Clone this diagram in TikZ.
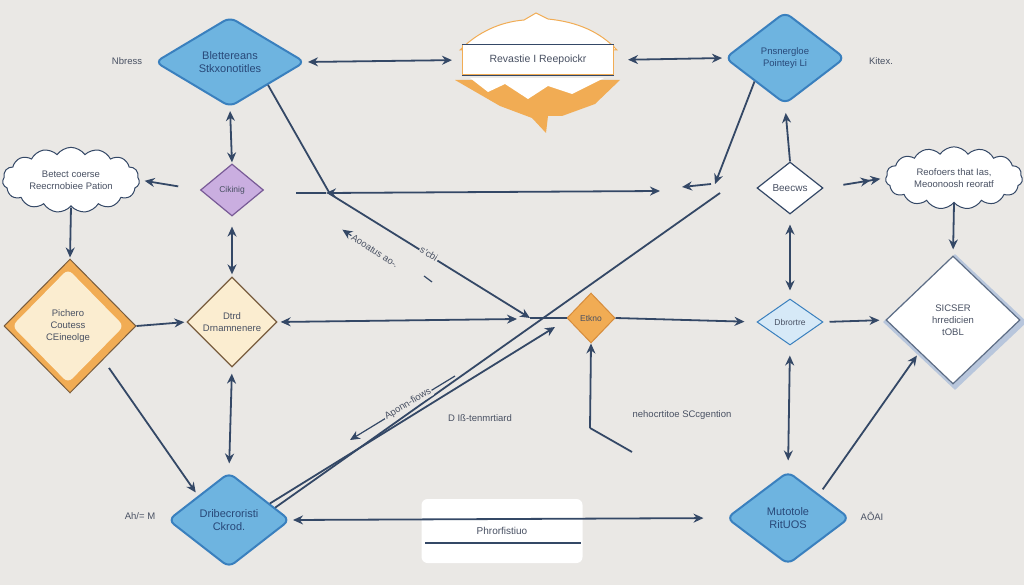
\documentclass[tikz,border=0pt]{standalone}
\usepackage{fontspec}
\setmainfont{Liberation Sans}
\usetikzlibrary{shapes.geometric,shapes.symbols,arrows.meta}
\definecolor{bgc}{RGB}{234,232,229}
\definecolor{navy}{RGB}{52,72,102}
\definecolor{txt}{RGB}{72,80,98}
\definecolor{bluetxt}{RGB}{40,72,120}
\definecolor{bluef}{RGB}{110,180,224}
\definecolor{blued}{RGB}{58,128,190}
\definecolor{purf}{RGB}{202,174,224}
\definecolor{purd}{RGB}{120,90,150}
\definecolor{orf}{RGB}{241,172,84}
\definecolor{ord}{RGB}{214,140,60}
\definecolor{cream}{RGB}{251,237,208}
\definecolor{brownd}{RGB}{120,92,62}
\definecolor{lbf}{RGB}{214,233,247}
\definecolor{greyblue}{RGB}{184,198,220}
\begin{document}
\begin{tikzpicture}[x=1pt,y=-1pt,
  base/.style={inner sep=0pt, align=center, text=txt, font=\fontsize{10}{12}\selectfont},
  blueshape/.style={base, diamond, fill=bluef, draw=blued, line width=2pt, rounded corners=7pt, text=bluetxt, font=\fontsize{11}{13}\selectfont},
  dia/.style={base, diamond},
  cloudy/.style={base, cloud, cloud puffs=15, cloud puff arc=110, aspect=2.2, fill=white, draw=navy, line width=1pt},
  conn/.style={draw=navy, line width=1.8pt},
  >={Stealth[length=10pt,width=9pt]},
  lab/.style={text=txt, font=\fontsize{9.5}{11}\selectfont, inner sep=1pt},
  onl/.style={lab, fill=bgc}
]
\fill[bgc] (0,0) rectangle (1024,585);
\useasboundingbox (0,0) rectangle (1024,585);

% ---------- top banner ----------
\fill[orf] (455,80) -- (620,80) -- (595,104) -- (562,116) -- (548,116) -- (546,133) -- (532,118) -- (500,106) -- cycle;
\fill[white] (470,78) -- (488,92) -- (505,84) -- (528,99) -- (548,86) -- (572,94) -- (604,78) -- cycle;
\filldraw[fill=white, draw=orf, line width=1pt] (460,50) .. controls (478,32) and (500,22) .. (524,20) -- (536,13) -- (548,19) .. controls (578,22) and (600,32) .. (617,50) -- cycle;
\node[base, fill=white, draw=orf, line width=1pt, minimum width=151, minimum height=30, font=\fontsize{10.5}{12}\selectfont] (rr) at (538,60) {Revastie I Reepoickr};
\draw[navy, line width=1.3pt] (rr.north west) -- (rr.north east);
\draw[navy, line width=1.3pt] (rr.south west) -- (rr.south east);

% ---------- nodes ----------
\node[blueshape, minimum width=150, minimum height=90] (tl) at (230,62) {Blettereans\\Stkxonotitles};
\node[blueshape, minimum width=120, minimum height=92, font=\fontsize{9.5}{12}\selectfont] (tr) at (785,58) {Pnsnergloe\\Pointeyi Li};
\node[cloudy, minimum width=137, minimum height=60, font=\fontsize{9.5}{12}\selectfont] (lc) at (71,180) {Betect coerse\\Reecrnobiee Pation};
\node[cloudy, minimum width=137, minimum height=62, font=\fontsize{9.5}{12}\selectfont] (rc) at (954,178) {Reofoers that Ias,\\Meoonoosh reoratf};
\node[dia, fill=purf, draw=purd, line width=1.2pt, minimum width=63, minimum height=52, font=\fontsize{8.5}{10}\selectfont] (pu) at (232,190) {Cikinig};
\node[dia, fill=white, draw=navy, line width=1.2pt, minimum width=66, minimum height=52] (be) at (790,188) {Beecws};

\node[dia, fill=orf, draw=brownd, line width=1pt, minimum width=132, minimum height=134] (pc) at (70,326) {};
\node[dia, fill=cream, rounded corners=6pt, minimum width=112, minimum height=114] at (68,326) {};
\node[base, font=\fontsize{9.5}{12}\selectfont] at (68,326) {Pichero\\Coutess\\CEineolge};

\node[dia, fill=cream, draw=brownd, line width=1.3pt, minimum width=90, minimum height=90, font=\fontsize{9.5}{12}\selectfont] (dt) at (232,322) {Dtrd\\Drnamnenere};
\node[dia, fill=orf, draw=ord, line width=1pt, minimum width=48, minimum height=50, font=\fontsize{8.5}{10}\selectfont] (et) at (591,318) {Etkno};
\node[dia, fill=lbf, draw=blued, line width=1pt, minimum width=66, minimum height=46, font=\fontsize{8.5}{10}\selectfont] (lb) at (790,322) {Dbrortre};

\node[dia, fill=greyblue, minimum width=144, minimum height=136] at (955,322) {};
\node[dia, fill=white, draw=navy!80, line width=1.2pt, minimum width=134, minimum height=128, font=\fontsize{9.5}{12}\selectfont] (si) at (953,320) {SICSER\\hrredicien\\tOBL};

\node[blueshape, minimum width=122, minimum height=95] (bb) at (229,520) {Dribecroristi\\Ckrod.};
\node[blueshape, minimum width=123, minimum height=93] (mu) at (788,518) {Mutotole\\RitUOS};

\node[base, fill=white, rounded corners=6pt, minimum width=161, minimum height=64] (ph) at (502,531) {Phrorfistiuo};
\draw[navy, line width=1.2pt] (425,543) -- (581,543);

% ---------- free labels ----------
\node[lab] (l1) at (127,61) {Nbress};
\node[lab] (l2) at (881,61) {Kitex.};
\node[lab] (l3) at (140,516) {Ah/= M};
\node[lab] (l4) at (872,516) {AÔAI};
\node[lab] (l5) at (480,418) {D Iß-tenmrtiard};
\node[lab] (l6) at (682,415) {nehocrtitoe SCcgention};

% ---------- coordinates ----------
\coordinate (cx) at (530,318);
\coordinate (cxl) at (517,319);
\coordinate (bend) at (330,194);
\coordinate (h0) at (296,193);
\coordinate (h1) at (326,193);
\coordinate (h2) at (660,191);
\coordinate (tj) at (715,184);
\coordinate (tj2) at (682,187);
\coordinate (td) at (720,193);
\coordinate (ar) at (555,327);
\coordinate (etb) at (590,428);
\coordinate (ete) at (632,452);
\coordinate (ap1) at (455,376);
\coordinate (ap2) at (350,440);
\coordinate (tk1) at (424,276);
\coordinate (tk2) at (432,282);

% ---------- connectors ----------
\draw[conn,<->,shorten <=2pt,shorten >=10pt] (tl.east) -- (rr.west);
\draw[conn,<->,shorten <=14pt,shorten >=2pt] (rr.east) -- (tr.west);
\draw[conn,<->,shorten <=3pt,shorten >=1pt] (tl.south) -- (pu.north);
\draw[conn,->,shorten <=22pt,shorten >=5pt] (pu.west) -- (lc.east);
\draw[conn,->,shorten <=1pt,shorten >=1pt] (lc.south) -- (pc.north);
\draw[conn,<->,shorten <=10pt,shorten >=2pt] (pu.south) -- (dt.north);
\draw[conn,->,shorten >=2pt] (pc.east) -- (dt.west);
\draw[conn,<->,shorten <=3pt] (dt.east) -- (cxl);
\draw[conn] (cx) -- (et.west);
\draw[conn,->,shorten >=12pt] (et.east) -- (lb.west);
\draw[conn,->,shorten <=6pt,shorten >=6pt] (lb.east) -- (si.west);
\draw[conn,->>,shorten <=20pt,shorten >=5pt] (be.east) -- (rc.west);
\draw[conn,->,shorten >=6pt] (rc.south) -- (si.north);
\draw[conn,<->,shorten <=10pt,shorten >=8pt] (be.south) -- (lb.north);
\draw[conn,->,shorten >=8pt] (be.north) -- (tr.south);
\draw[conn,<->,shorten <=6pt,shorten >=8pt] (dt.south) -- (bb.north);
\draw[conn,->,shorten <=10pt,shorten >=4pt] (pc.south east) -- (bb.north west);
\draw[conn,<->,shorten <=2pt,shorten >=22pt] (bb.east) -- (mu.west);
\draw[conn,<->,shorten <=10pt,shorten >=10pt] (lb.south) -- (mu.north);
\draw[conn,->,shorten <=6pt,shorten >=4pt] (mu.north east) -- (si.south west);
\draw[conn,->] (etb) -- (et.south);
\draw[conn] (etb) -- (ete);
\draw[conn,->] (tl.south east) -- (bend) -- (cx);
\draw[conn,<->] (h1) -- (h2);
\draw[conn] (h0) -- (h1);
\draw[conn,->] (tr.south west) -- (tj);
\draw[conn,->] ([xshift=-4pt]tj) -- (tj2);
\draw[conn] (bb.15) -- (td);
\draw[conn,->] (bb.22) -- (ar);
\draw[navy, line width=1.2pt, ->] (ap1) -- (ap2);

% ---------- connector labels ----------
\node[onl, rotate=-32] at (429,254) {s'cbi};
\node[lab, rotate=-33] (aol) at (375,251) {Aooatus ao-.};
\draw[navy, line width=1.2pt, ->] (aol.west) -- ++(-9,-6);
\draw[navy, line width=1.2pt] (tk1) -- (tk2);
\node[onl, rotate=31] at (408,404) {Aponn-fiows};
\end{tikzpicture}
\end{document}
